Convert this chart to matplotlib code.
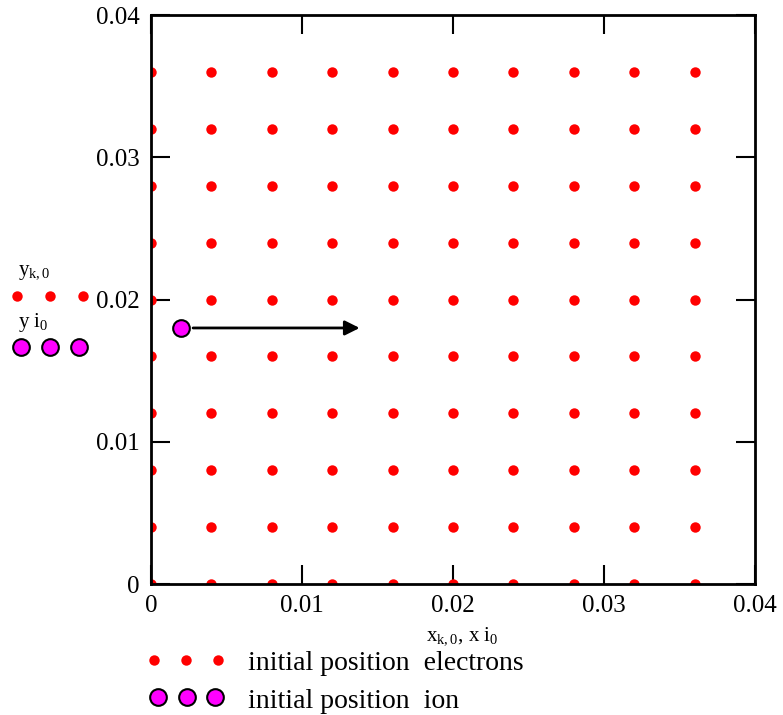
import numpy as np
import matplotlib.pyplot as plt

# electron grid and ion start position
xk0 = [0.000, 0.004, 0.008, 0.012, 0.016, 0.020, 0.024, 0.028, 0.032, 0.036]
yk0 = [0.000, 0.004, 0.008, 0.012, 0.016, 0.020, 0.024, 0.028, 0.032, 0.036]
xi0 = [0.002]
yi0 = [0.018]
arrow_end = [0.014, 0.018]
ticks = [0, 0.01, 0.02, 0.03, 0.04]
tick_labels = ["0", "0.01", "0.02", "0.03", "0.04"]

plt.rcParams['font.family'] = ['Liberation Serif', 'DejaVu Serif']
plt.rcParams['mathtext.fontset'] = 'custom'
plt.rcParams['mathtext.rm'] = 'Liberation Serif'
plt.rcParams['mathtext.it'] = 'Liberation Serif'

fig = plt.figure(figsize=(7.83, 7.15), dpi=100)
ax = fig.add_axes([0.1929, 0.1832, 0.7713, 0.7958])

gx, gy = np.meshgrid(xk0, yk0)
ax.plot(gx.ravel(), gy.ravel(), 'o', color='red', markersize=7.5, markeredgewidth=0)
ax.plot(xi0, yi0, 'o', color='#ff00ff', markersize=12, markeredgecolor='black', markeredgewidth=1.5, zorder=4)
ax.annotate('', xy=(arrow_end[0], arrow_end[1]), xytext=(xi0[0] + 0.0006, yi0[0]),
            arrowprops=dict(arrowstyle='-|>', color='black', lw=2, mutation_scale=22))

ax.set_xlim(0, 0.04)
ax.set_ylim(0, 0.04)
ax.set_xticks(ticks)
ax.set_yticks(ticks)
ax.set_xticklabels(tick_labels, fontsize=18)
ax.set_yticklabels(tick_labels, fontsize=18)
ax.tick_params(direction='in', length=14, width=1.5, top=True, right=True, pad=8)
for s in ax.spines.values():
    s.set_linewidth(2)

# axis expression labels (Mathcad style)
fig.text(18 / 783, 1 - 273 / 715, r'y$_{\mathrm{k,0}}$', fontsize=15, va='center', ha='left')
fig.text(18 / 783, 1 - 322 / 715, r'y i$_{\mathrm{0}}$', fontsize=15, va='center', ha='left')
for px in [17, 50, 83]:
    fig.lines.append(plt.Line2D([px / 783], [1 - 296 / 715], transform=fig.transFigure,
                                marker='o', color='red', markersize=7.5, markeredgewidth=0))
for px in [21, 50, 79]:
    fig.lines.append(plt.Line2D([px / 783], [1 - 347 / 715], transform=fig.transFigure,
                                marker='o', color='#ff00ff', markersize=12,
                                markeredgecolor='black', markeredgewidth=1.5))

fig.text(462 / 783, 1 - 636 / 715, r'x$_{\mathrm{k,0}}$, x i$_{\mathrm{0}}$', fontsize=15, va='center', ha='center')
for px in [154, 186, 218]:
    fig.lines.append(plt.Line2D([px / 783], [1 - 660 / 715], transform=fig.transFigure,
                                marker='o', color='red', markersize=7.5, markeredgewidth=0))
for px in [158, 187, 215]:
    fig.lines.append(plt.Line2D([px / 783], [1 - 697 / 715], transform=fig.transFigure,
                                marker='o', color='#ff00ff', markersize=12,
                                markeredgecolor='black', markeredgewidth=1.5))
fig.text(248 / 783, 1 - 664 / 715, 'initial position  electrons', fontsize=20, va='center', ha='left')
fig.text(248 / 783, 1 - 701 / 715, 'initial position  ion', fontsize=20, va='center', ha='left')

fig.savefig('out.png', dpi=100)
